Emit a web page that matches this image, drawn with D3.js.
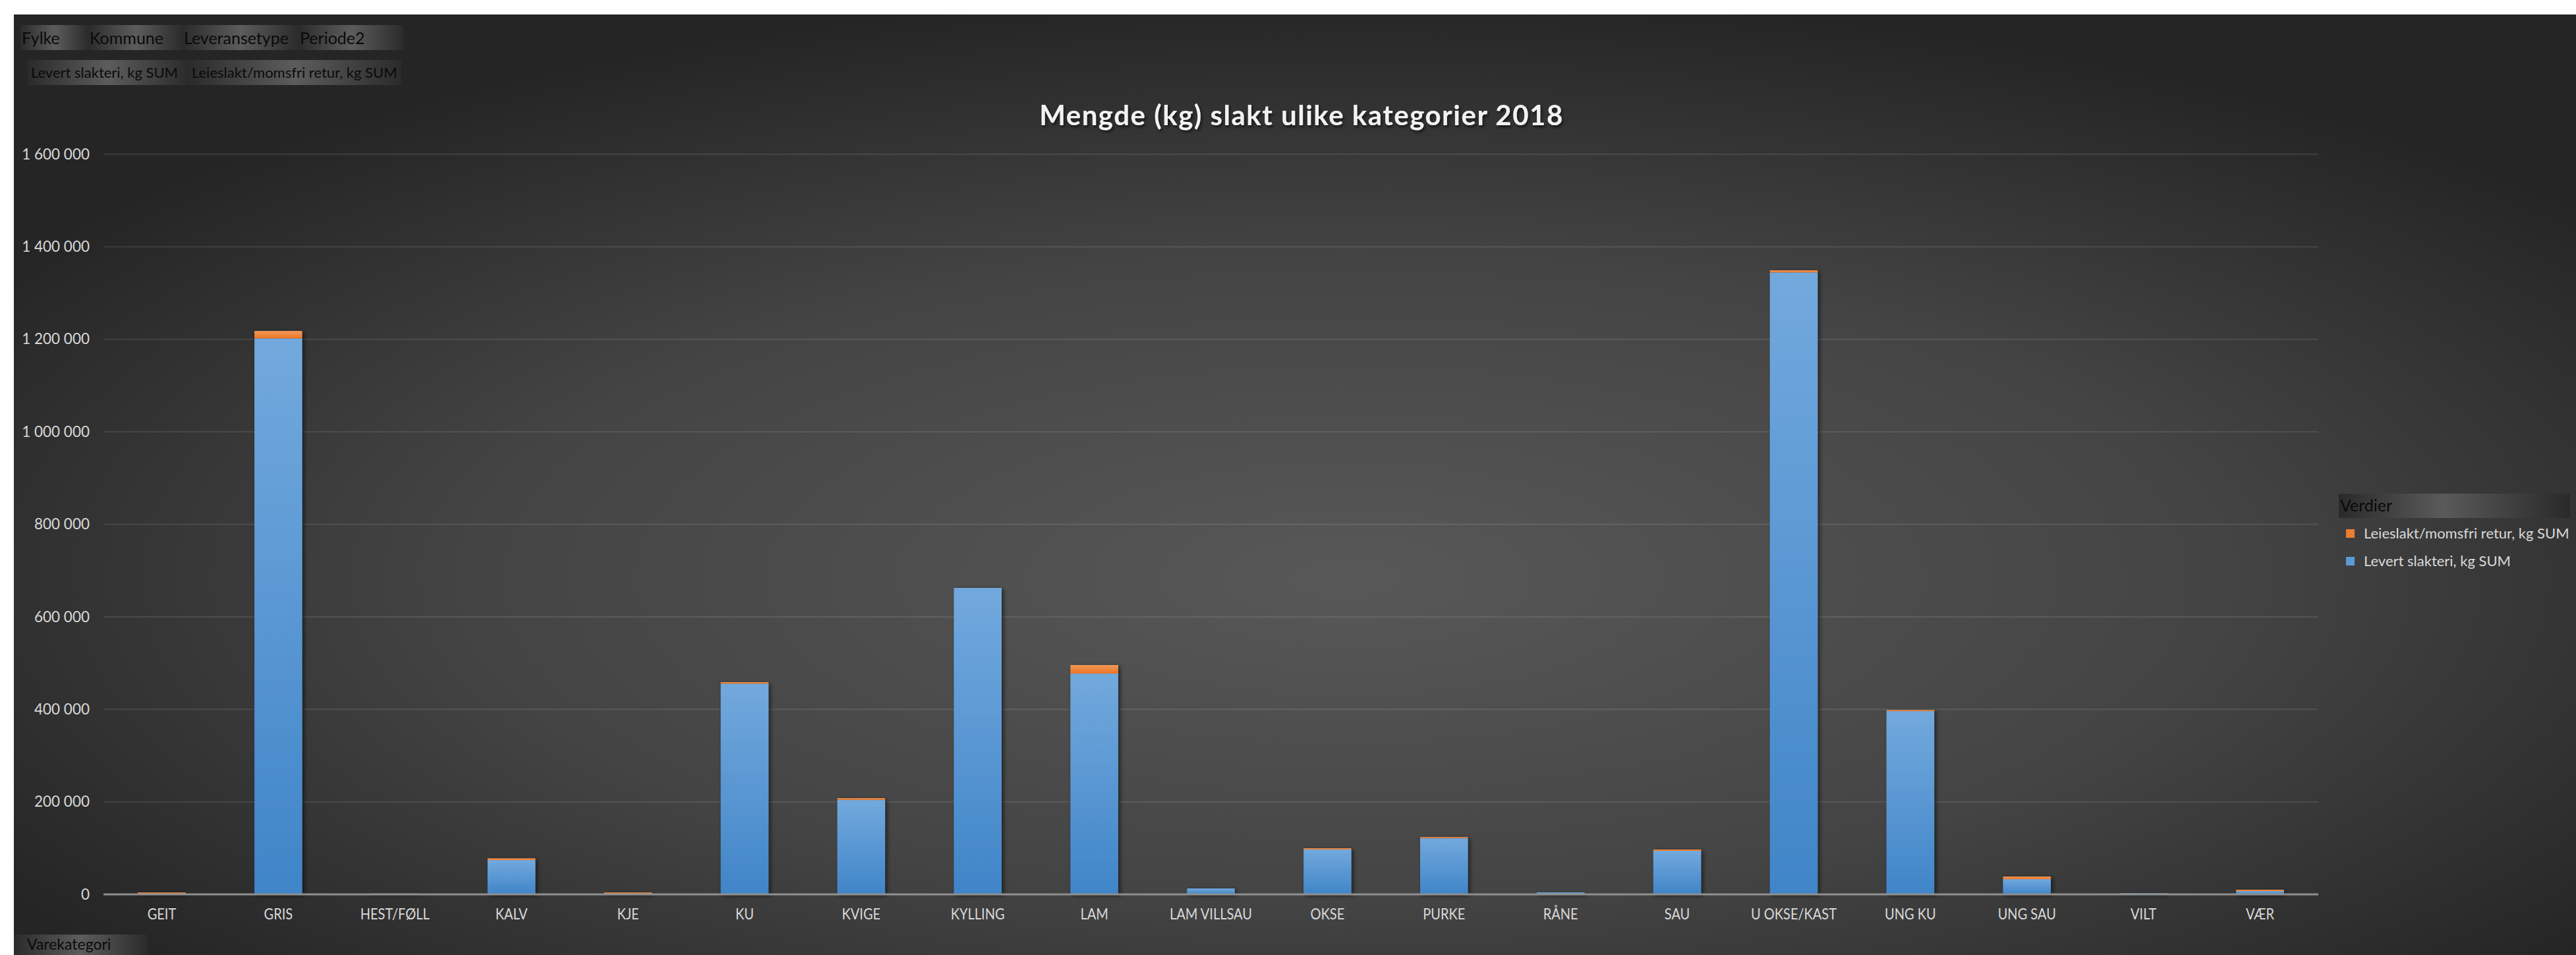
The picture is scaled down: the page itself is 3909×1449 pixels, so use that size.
<!DOCTYPE html>
<html>
<head>
<meta charset="utf-8">
<script src="https://cdn.jsdelivr.net/npm/d3@7"></script>
<style>
  html, body { margin: 0; padding: 0; background: #ffffff; }
  svg { display: block; }
  text { font-family: Lato, "Open Sans", sans-serif; }
</style>
</head>
<body>
<svg id="chart" width="3909" height="1449"></svg>
<script>
// ---- Data ----
const categories = ["GEIT","GRIS","HEST/FØLL","KALV","KJE","KU","KVIGE","KYLLING","LAM","LAM VILLSAU",
  "OKSE","PURKE","RÅNE","SAU","U OKSE/KAST","UNG KU","UNG SAU","VILT","VÆR"];
const levert = [1000, 1202000, 1800, 74100, 500, 455500, 204200, 662500, 477300, 12800,
  96900, 121600, 4300, 94000, 1344500, 396000, 32800, 2500, 7100];
const leieslakt = [3000, 16000, 0, 3800, 3500, 3200, 3800, 0, 18500, 0,
  2800, 2400, 0, 2900, 4500, 2500, 5700, 0, 2900];
const yTicks = [0, 200000, 400000, 600000, 800000, 1000000, 1200000, 1400000, 1600000];
const seriesNames = ["Levert slakteri, kg SUM", "Leieslakt/momsfri retur, kg SUM"];
const filterRow1 = ["Fylke", "Kommune", "Leveransetype", "Periode2"];
const filterRow2 = ["Levert slakteri, kg SUM", "Leieslakt/momsfri retur, kg SUM"];
const titleText = "Mengde (kg) slakt ulike kategorier 2018";
const legendTitle = "Verdier";
const axisFieldLabel = "Varekategori";

const W = 3909, H = 1449;
const svg = d3.select("#chart");
const defs = svg.append("defs");

// background gradient
const bg = defs.append("radialGradient").attr("id", "bgGrad")
  .attr("cx", "52%").attr("cy", "60%").attr("r", "62%");
bg.append("stop").attr("offset", "0%").attr("stop-color", "#585858");
bg.append("stop").attr("offset", "55%").attr("stop-color", "#444444");
bg.append("stop").attr("offset", "100%").attr("stop-color", "#252525");

// bar gradients
const gBlue = defs.append("linearGradient").attr("id", "gBlue").attr("x1", 0).attr("y1", 0).attr("x2", 0).attr("y2", 1);
gBlue.append("stop").attr("offset", "0%").attr("stop-color", "#72a9dd");
gBlue.append("stop").attr("offset", "100%").attr("stop-color", "#4085c8");
const gOrange = defs.append("linearGradient").attr("id", "gOrange").attr("x1", 0).attr("y1", 0).attr("x2", 0).attr("y2", 1);
gOrange.append("stop").attr("offset", "0%").attr("stop-color", "#f39a5a");
gOrange.append("stop").attr("offset", "100%").attr("stop-color", "#eb7424");

// button gradient (dark edges, light center)
const gBtn = defs.append("linearGradient").attr("id", "gBtn").attr("x1", 0).attr("y1", 0).attr("x2", 1).attr("y2", 0);
gBtn.append("stop").attr("offset", "0%").attr("stop-color", "#2b2b2b");
gBtn.append("stop").attr("offset", "50%").attr("stop-color", "#5c5c5c");
gBtn.append("stop").attr("offset", "100%").attr("stop-color", "#2b2b2b");
const gLeg = defs.append("linearGradient").attr("id", "gLeg").attr("x1", 0).attr("y1", 0).attr("x2", 1).attr("y2", 0);
gLeg.append("stop").attr("offset", "0%").attr("stop-color", "#2a2a2a");
gLeg.append("stop").attr("offset", "45%").attr("stop-color", "#5a5a5a");
gLeg.append("stop").attr("offset", "100%").attr("stop-color", "#2a2a2a");

const shadow = defs.append("filter").attr("id", "barShadow")
  .attr("x", "-20%").attr("y", "-5%").attr("width", "150%").attr("height", "115%");
shadow.append("feDropShadow").attr("dx", 3).attr("dy", 2).attr("stdDeviation", 3)
  .attr("flood-color", "#000").attr("flood-opacity", 0.55);
const tShadow = defs.append("filter").attr("id", "titleShadow")
  .attr("x", "-5%").attr("y", "-30%").attr("width", "110%").attr("height", "160%");
tShadow.append("feDropShadow").attr("dx", 2).attr("dy", 3).attr("stdDeviation", 2)
  .attr("flood-color", "#000").attr("flood-opacity", 0.6);

// chart area background
svg.append("rect").attr("x", 21).attr("y", 22).attr("width", W - 21).attr("height", H - 22)
  .attr("fill", "url(#bgGrad)");

// ---- Scales ----
const x = d3.scaleBand().domain(categories).range([157, 3518]).paddingInner(0.59).paddingOuter(0.295);
const y = d3.scaleLinear().domain([0, 1600000]).range([1357, 234]);

const locale = d3.formatLocale({ decimal: ",", thousands: "\u00a0", grouping: [3], currency: ["", ""] });
const fmt = locale.format(",");

// gridlines
svg.append("g").selectAll("line").data(yTicks.filter(d => d > 0)).join("line")
  .attr("x1", 157).attr("x2", 3518)
  .attr("y1", d => y(d)).attr("y2", d => y(d))
  .attr("stroke", "#ffffff").attr("stroke-opacity", 0.1).attr("stroke-width", 2);

// y axis labels
const yAxis = d3.axisLeft(y).tickValues(yTicks).tickFormat(fmt).tickSize(0).tickPadding(0);
const gy = svg.append("g").attr("transform", "translate(136,0)").call(yAxis);
gy.select(".domain").remove();
gy.selectAll("text").attr("fill", "#d9d9d9").attr("font-size", 22.5).attr("font-family", "Lato, sans-serif");

// stacked bars
const rows = categories.map((c, i) => ({ cat: c, levert: levert[i], leieslakt: leieslakt[i] }));
const stack = d3.stack().keys(["levert", "leieslakt"]);
const stacked = stack(rows);
const fills = ["url(#gBlue)", "url(#gOrange)"];

const barsG = svg.append("g").attr("filter", "url(#barShadow)");
stacked.forEach((s, si) => {
  barsG.append("g").selectAll("rect").data(s).join("rect")
    .attr("x", d => x(d.data.cat))
    .attr("width", x.bandwidth())
    .attr("y", d => y(d[1]))
    .attr("height", d => Math.max(0, y(d[0]) - y(d[1])))
    .attr("fill", fills[si]);
});

// x axis line
svg.append("line").attr("x1", 157).attr("x2", 3518).attr("y1", y(0)).attr("y2", y(0))
  .attr("stroke", "#8f8f8f").attr("stroke-width", 3);

// x axis labels
const xAxis = d3.axisBottom(x).tickSize(0).tickPadding(0);
const gx = svg.append("g").attr("transform", `translate(0,${y(0) + 22})`).call(xAxis);
gx.select(".domain").remove();
gx.selectAll("text").attr("fill", "#d9d9d9").attr("font-size", 23)
  .attr("font-family", "Lato, sans-serif").attr("transform", "scale(0.87,1)");

// title
svg.append("text").attr("x", 1975).attr("y", 190).attr("text-anchor", "middle")
  .attr("fill", "#f2f2f2").attr("font-size", 42).attr("font-weight", "bold")
  .attr("letter-spacing", 1.5).attr("filter", "url(#titleShadow)").text(titleText);

// filter buttons
const row1Boxes = [[31, 134], [134, 277], [277, 453], [453, 612]];
filterRow1.forEach((t, i) => {
  const [x0, x1] = row1Boxes[i];
  svg.append("rect").attr("x", x0).attr("y", 38).attr("width", x1 - x0).attr("height", 38).attr("fill", "url(#gBtn)");
  svg.append("text").attr("x", x0 + 2).attr("y", 67).attr("fill", "#0a0a0a").attr("font-size", 25).text(t);
});
const row2Boxes = [[42, 286], [286, 609]];
filterRow2.forEach((t, i) => {
  const [x0, x1] = row2Boxes[i];
  svg.append("rect").attr("x", x0).attr("y", 91).attr("width", x1 - x0).attr("height", 38).attr("fill", "url(#gBtn)");
  svg.append("text").attr("x", x0 + 5).attr("y", 118).attr("fill", "#0a0a0a").attr("font-size", 22).text(t);
});

// Varekategori button
svg.append("rect").attr("x", 21).attr("y", 1418).attr("width", 203).attr("height", 31).attr("fill", "url(#gBtn)");
svg.append("text").attr("x", 41).attr("y", 1441).attr("fill", "#0a0a0a").attr("font-size", 23).text(axisFieldLabel);

// legend
svg.append("rect").attr("x", 3549).attr("y", 749).attr("width", 351).attr("height", 37).attr("fill", "url(#gLeg)");
svg.append("text").attr("x", 3551).attr("y", 776).attr("fill", "#0a0a0a").attr("font-size", 25).text(legendTitle);
const legendItems = [
  { name: seriesNames[1], fill: "#ed7d31" },
  { name: seriesNames[0], fill: "#5b9bd5" }
];
legendItems.forEach((d, i) => {
  const yy = 803 + i * 42;
  svg.append("rect").attr("x", 3560).attr("y", yy).attr("width", 13).attr("height", 13).attr("fill", d.fill);
  svg.append("text").attr("x", 3587).attr("y", yy + 14).attr("fill", "#d9d9d9").attr("font-size", 22).text(d.name);
});
</script>
</body>
</html>
